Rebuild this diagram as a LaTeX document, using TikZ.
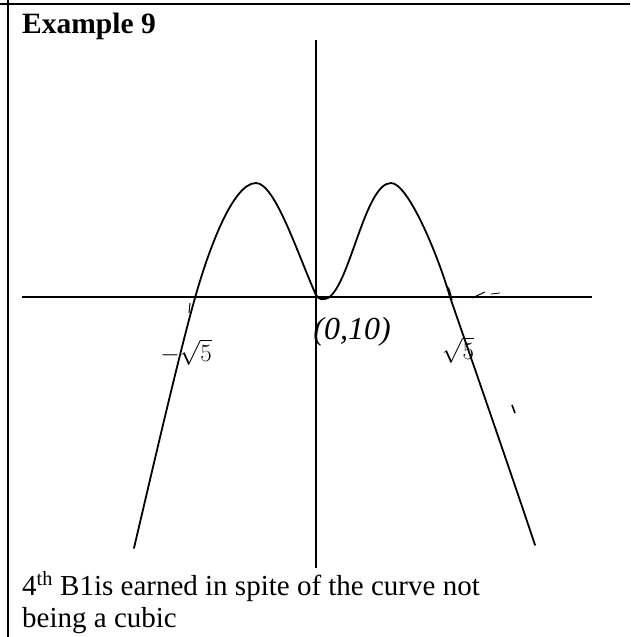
\documentclass[tikz,border=0pt]{standalone}
\usepackage{fontspec}
\setmainfont{Liberation Serif}
\begin{document}
\begin{tikzpicture}[x=1pt,y=-1pt,
  frame/.style={line width=2.6pt,black},
  axis/.style={line width=2.2pt,black},
  curve/.style={line width=1.8pt,black,line cap=round,line join=round},
  hand/.style={inner sep=0pt,font=\fontsize{32}{32}\selectfont\itshape},
  txt/.style={inner sep=0pt,anchor=base west,font=\fontsize{29}{33}\selectfont}]
\useasboundingbox (0,0) rectangle (630,637);
% frame
\coordinate (TL) at (0,4); \coordinate (TR) at (630,4);
\coordinate (LT) at (8,0); \coordinate (LB) at (8,637);
\draw[frame] (TL) -- (TR);
\draw[frame] (LT) -- (LB);
% title
\node[txt,font=\fontsize{29.5}{33}\selectfont\bfseries] (title) at (22,33) {Example 9};
% axes
\coordinate (xl) at (22,297); \coordinate (xr) at (592,297);
\coordinate (yt) at (316,40); \coordinate (yb) at (316,568);
\draw[axis] (xl) -- (xr);
\draw[axis] (yt) -- (yb);
% curve
\coordinate (c0) at (134,548);
\coordinate (c1) at (195,298);
\coordinate (c2) at (256,183);
\coordinate (c3) at (316,295);
\coordinate (c4) at (328,298);
\coordinate (c5) at (391,183);
\coordinate (c6) at (450,297);
\coordinate (c7) at (535,545);
\draw[curve] (c0) .. controls (150,480) and (180,350) .. (c1)
  .. controls (207,255) and (232,183) .. (c2)
  .. controls (275,183) and (298,255) .. (c3)
  .. controls (319,300) and (323,300) .. (c4)
  .. controls (350,285) and (365,183) .. (c5)
  .. controls (408,183) and (438,255) .. (c6)
  .. controls (470,355) and (510,470) .. (c7);
% small marks
\coordinate (m1a) at (190,303); \coordinate (m1b) at (189,313);
\draw[line width=1pt] (m1a) -- (m1b);
\coordinate (m2a) at (446,285); \coordinate (m2b) at (452,300);
\draw[line width=1.2pt] (m2a) .. controls (449,288) .. (m2b);
\coordinate (m3a) at (472,298); \coordinate (m3b) at (485,292);
\draw[line width=1pt] (m3a) -- (m3b);
\coordinate (m4a) at (491,294); \coordinate (m4b) at (500,293);
\draw[line width=0.8pt] (m4a) -- (m4b);
\coordinate (m5a) at (512,405); \coordinate (m5b) at (515,413);
\draw[line width=1.6pt] (m5a) -- (m5b);
% handwritten labels
\node[hand] (lneg) at (186,352) {$-\sqrt{5}$};
\node[hand] (lorig) at (352,332) {(0,10)};
\node[hand] (lpos) at (458,350) {$\sqrt{5}$};
% bottom text
\node[txt] (l1) at (22,595) {4\textsuperscript{th} B1is earned in spite of the curve not};
\node[txt] (l2) at (22,627) {being a cubic};
\end{tikzpicture}
\end{document}
